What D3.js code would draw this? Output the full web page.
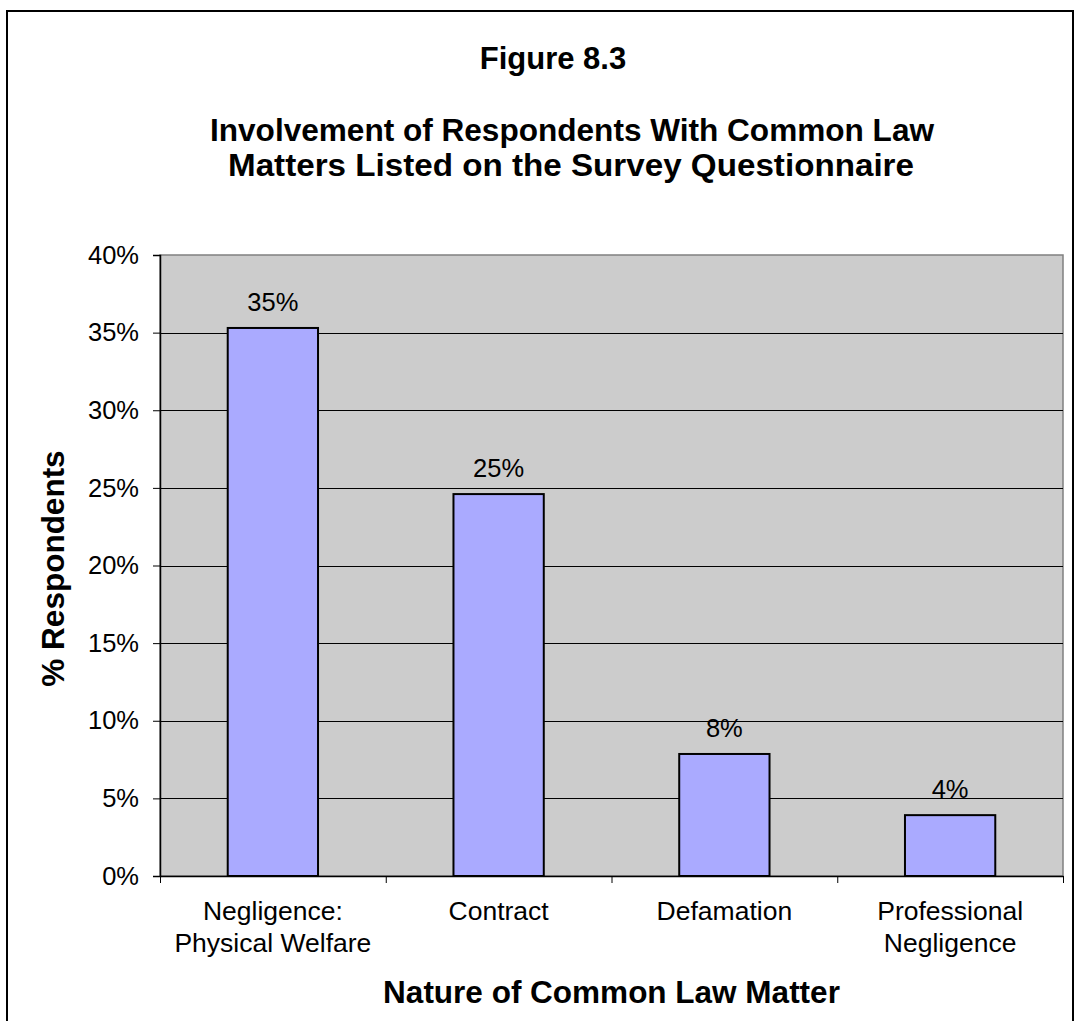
<!DOCTYPE html>
<html>
<head>
<meta charset="utf-8">
<script src="https://cdn.jsdelivr.net/npm/d3@7"></script>
<style>
  body { margin: 0; background: #fff; }
  svg { display: block; }
  text { font-family: "Liberation Sans", Arial, Helvetica, sans-serif; fill: #000; }
</style>
</head>
<body>
<svg id="chart" width="1077" height="1021"></svg>
<script>
// Share of respondents involved with each common law matter
const categories = ["Negligence: Physical Welfare", "Contract", "Defamation", "Professional Negligence"];
const categoryLines = [["Negligence:", "Physical Welfare"], ["Contract"], ["Defamation"], ["Professional", "Negligence"]];
const values = [0.353, 0.246, 0.0786, 0.0392];
const yTicks = [0, 0.05, 0.10, 0.15, 0.20, 0.25, 0.30, 0.35, 0.40];
const titleLines = ["Figure 8.3", "Involvement of Respondents With Common Law", "Matters Listed on the Survey Questionnaire"];
const xTitle = "Nature of Common Law Matter";
const yTitle = "% Respondents";

const svg = d3.select("#chart");
const pct = d3.format(".0%");

const plot = { left: 160, right: 1063, top: 255, bottom: 876 };

// outer frame of the chart
svg.append("rect")
  .attr("x", 7).attr("y", 11)
  .attr("width", 1066).attr("height", 1030)
  .attr("fill", "#fff").attr("stroke", "#000").attr("stroke-width", 2);

const x = d3.scaleBand()
  .domain(categories)
  .range([plot.left, plot.right])
  .paddingInner(0.6)
  .paddingOuter(0.3);

const xEdges = d3.scaleLinear().domain([0, categories.length]).range([plot.left, plot.right]);

const y = d3.scaleLinear().domain([0, 0.4]).range([plot.bottom, plot.top]);

// plot background
svg.append("rect")
  .attr("x", plot.left).attr("y", plot.top)
  .attr("width", plot.right - plot.left).attr("height", plot.bottom - plot.top)
  .attr("fill", "#cccccc").attr("stroke", "#808080").attr("stroke-width", 1.5);

// horizontal gridlines
svg.append("g")
  .selectAll("line")
  .data(yTicks.filter(t => t > 0 && t < 0.4))
  .join("line")
  .attr("x1", plot.left).attr("x2", plot.right)
  .attr("y1", d => Math.round(y(d)) + 0.5).attr("y2", d => Math.round(y(d)) + 0.5)
  .attr("stroke", "#000").attr("stroke-width", 1);

// bars
svg.append("g")
  .selectAll("rect")
  .data(values)
  .join("rect")
  .attr("x", (d, i) => x(categories[i]))
  .attr("y", d => y(d))
  .attr("width", x.bandwidth())
  .attr("height", d => y(0) - y(d))
  .attr("fill", "#aaaaff")
  .attr("stroke", "#000")
  .attr("stroke-width", 2);

// value labels
svg.append("g")
  .selectAll("text")
  .data(values)
  .join("text")
  .attr("x", (d, i) => x(categories[i]) + x.bandwidth() / 2)
  .attr("y", d => y(d) - 17)
  .attr("text-anchor", "middle")
  .attr("font-size", 25.5)
  .text(d => pct(d));

// y axis
const yAxis = svg.append("g")
  .attr("transform", `translate(${plot.left},0)`)
  .call(d3.axisLeft(y).tickValues(yTicks).tickFormat(pct).tickSize(7).tickPadding(14));
yAxis.select(".domain").attr("stroke", "#000").attr("stroke-width", 1.5);
yAxis.selectAll(".tick line").attr("stroke", "#000");
yAxis.selectAll(".tick text")
  .attr("font-size", 25.5)
  .attr("font-family", "Liberation Sans, Arial, sans-serif")
  .attr("fill", "#000");

// x axis with ticks at category boundaries
const xAxis = svg.append("g")
  .attr("transform", `translate(0,${plot.bottom})`)
  .call(d3.axisBottom(xEdges).tickValues(d3.range(categories.length + 1)).tickFormat("").tickSize(7).tickSizeOuter(0));
xAxis.select(".domain").attr("stroke", "#000").attr("stroke-width", 1.5);
xAxis.selectAll(".tick line").attr("stroke", "#000");

// category labels
const catG = svg.append("g")
  .selectAll("text")
  .data(categories)
  .join("text")
  .attr("x", d => x(d) + x.bandwidth() / 2)
  .attr("y", 920)
  .attr("text-anchor", "middle")
  .attr("font-size", 26.5);
catG.each(function (d, i) {
  d3.select(this).selectAll("tspan")
    .data(categoryLines[i])
    .join("tspan")
    .attr("x", x(d) + x.bandwidth() / 2)
    .attr("dy", (t, j) => j === 0 ? 0 : 31.5)
    .text(t => t);
});

// axis titles
svg.append("text")
  .attr("x", (plot.left + plot.right) / 2)
  .attr("y", 1003)
  .attr("text-anchor", "middle")
  .attr("font-size", 31.5)
  .attr("font-weight", "bold")
  .text(xTitle);

svg.append("text")
  .attr("transform", `translate(64,${(plot.top + plot.bottom) / 2 + 3}) rotate(-90)`)
  .attr("text-anchor", "middle")
  .attr("font-size", 31.5)
  .attr("font-weight", "bold")
  .text(yTitle);

// chart title
svg.append("text")
  .attr("x", 553).attr("y", 69)
  .attr("text-anchor", "middle")
  .attr("font-size", 31).attr("font-weight", "bold")
  .text(titleLines[0]);
svg.append("text")
  .attr("x", 210).attr("y", 140.5)
  .attr("font-size", 31).attr("font-weight", "bold")
  .attr("textLength", 724).attr("lengthAdjust", "spacingAndGlyphs")
  .text(titleLines[1]);
svg.append("text")
  .attr("x", 228).attr("y", 176)
  .attr("font-size", 31).attr("font-weight", "bold")
  .attr("textLength", 686).attr("lengthAdjust", "spacingAndGlyphs")
  .text(titleLines[2]);
</script>
</body>
</html>
